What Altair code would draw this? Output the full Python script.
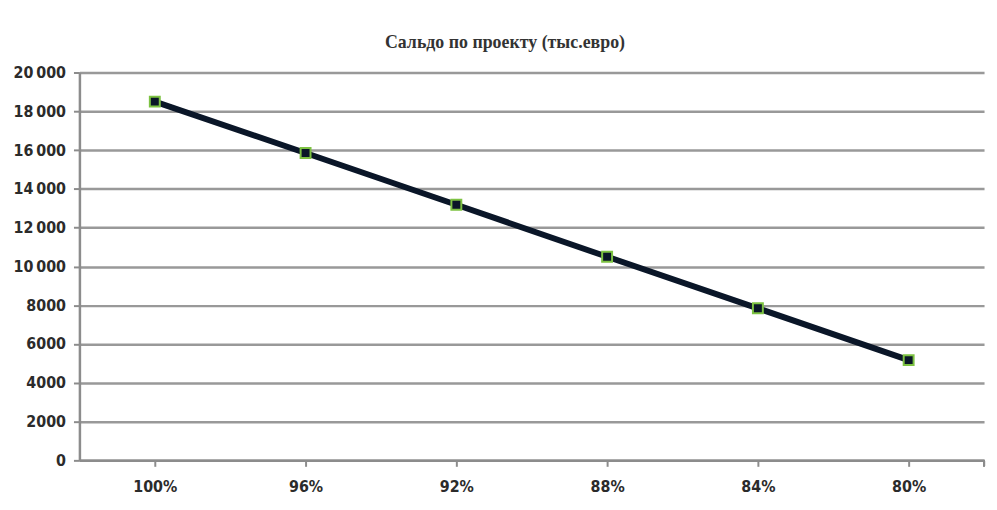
import altair as alt
import pandas as pd

categories = ["100%", "96%", "92%", "88%", "84%", "80%"]
values = [18500, 15850, 13180, 10500, 7840, 5170]
y_ticks = [0, 2000, 4000, 6000, 8000, 10000, 12000, 14000, 16000, 18000, 20000]
title_text = "Сальдо по проекту (тыс.евро)"

df = pd.DataFrame({"cat": categories, "val": values})

LABEL_FONT = "DejaVu Sans Condensed"

x_enc = alt.X(
    "cat:N",
    sort=categories,
    title=None,
    scale=alt.Scale(paddingInner=0, paddingOuter=0),
    axis=alt.Axis(
        labelAngle=0,
        bandPosition=0,
        tickSize=6,
        tickColor="#8c8c8c",
        tickWidth=2,
        domainColor="#8c8c8c",
        domainWidth=2.5,
        labelPadding=12,
        labelFont=LABEL_FONT,
        labelFontWeight="bold",
        labelFontSize=16,
        labelColor="#2b2b2b",
        labelOverlap=False,
        grid=False,
    ),
)
y_enc = alt.Y(
    "val:Q",
    title=None,
    scale=alt.Scale(domain=[0, 20000], nice=False),
    axis=alt.Axis(
        values=y_ticks,
        tickCount=11,
        tickSize=6,
        tickColor="#8c8c8c",
        tickWidth=2,
        domainColor="#8c8c8c",
        domainWidth=2.5,
        gridColor="#999999",
        gridWidth=2.5,
        labelPadding=8,
        labelFont=LABEL_FONT,
        labelFontWeight="bold",
        labelFontSize=16,
        labelColor="#2b2b2b",
        labelOverlap=False,
        labelExpr="datum.value >= 10000 ? replace(format(datum.value, ','), ',', '\u2009') : format(datum.value, 'd')",
    ),
)

base = alt.Chart(df).encode(x=x_enc, y=y_enc)
line = base.mark_line(color="#0a1628", strokeWidth=6)
pts = base.mark_point(
    shape="square", filled=True, fill="#0a1628", stroke="#7dc242", strokeWidth=2, size=100, opacity=1
)

end_tick = alt.Chart(df).mark_rule(color="#8c8c8c", strokeWidth=2).encode(
    x=alt.value(912), y=alt.value(391), y2=alt.value(397)
)

chart = (
    alt.layer(line, pts, end_tick)
    .properties(
        width=912,
        height=391,
        autosize=alt.AutoSizeParams(type="none"),
        padding={"left": 72, "top": 63, "right": 5, "bottom": 48},
        title=alt.TitleParams(
            title_text,
            font="Liberation Serif, Times New Roman, serif",
            fontSize=18,
            fontWeight="bold",
            color="#333333",
            anchor="middle",
            dx=-27,
            offset=13,
        ),
    )
    .configure(background="white")
    .configure_view(stroke=None)
)

chart.save("out.html", embed_options={"renderer": "svg", "actions": False})
